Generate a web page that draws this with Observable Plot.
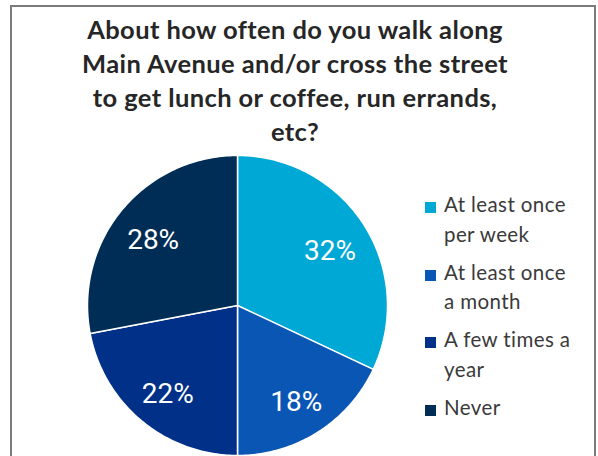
<!DOCTYPE html>
<html><head><meta charset="utf-8">
<script src="https://cdn.jsdelivr.net/npm/d3@7"></script>
<script src="https://cdn.jsdelivr.net/npm/@observablehq/plot@0.6"></script>
<style>
html,body{margin:0;padding:0;background:#fff;}
#wrap{position:relative;width:598px;height:456px;overflow:hidden;}
#frame{position:absolute;left:10px;top:5px;width:582px;height:470px;border:2px solid #7b7b7b;border-bottom:none;}
#title{position:absolute;left:0;width:590px;top:12px;text-align:center;font:bold 25.5px Lato;letter-spacing:0.4px;color:#262626;line-height:34px;}
#legend{position:absolute;left:425px;top:190px;font:20.5px Lato;letter-spacing:0.4px;color:#3a3a3a;}
.item{position:relative;padding-left:19px;line-height:29.5px;margin-bottom:8.5px;white-space:nowrap;}
.sw{position:absolute;left:0;top:12px;width:11px;height:11px;}
#chart svg{position:absolute;left:0;top:0;}
</style></head>
<body>
<div id="wrap">
  <div id="frame"></div>
  <div id="title"></div>
  <div id="chart"></div>
  <div id="legend"></div>
</div>
<script>
const titleLines = ["About how often do you walk along", "Main Avenue and/or cross the street", "to get lunch or coffee, run errands,", "etc?"];
const categories = ["At least once per week", "At least once a month", "A few times a year", "Never"];
const legendLines = [["At least once", "per week"], ["At least once", "a month"], ["A few times a", "year"], ["Never"]];
const values = [32, 18, 22, 28];
const colors = ["#00A8D6", "#0A56B5", "#003087", "#002D55"];

document.getElementById("title").innerHTML = titleLines.map(t => `<div>${t}</div>`).join("");

const data = categories.map((c, i) => ({category: c, value: values[i]}));
const arcs = d3.pie().sort(null).value(d => d.value)(data);

function slicePolygon(a) {
  const n = Math.max(2, Math.ceil((a.endAngle - a.startAngle) / (Math.PI / 180)));
  const ring = [[0, 0]];
  for (let k = 0; k <= n; k++) {
    const t = a.startAngle + (a.endAngle - a.startAngle) * k / n;
    ring.push([Math.sin(t), Math.cos(t)]);
  }
  ring.push([0, 0]);
  return {type: "Feature", properties: {category: a.data.category, value: a.data.value}, geometry: {type: "Polygon", coordinates: [ring]}};
}
const slices = arcs.map(slicePolygon);
const labels = arcs.map(a => {
  const m = (a.startAngle + a.endAngle) / 2;
  return {x: 0.73 * Math.sin(m), y: 0.73 * Math.cos(m), text: a.data.value + "%"};
});
const domain = {type: "FeatureCollection", features: slices};

const plot = Plot.plot({
  width: 598,
  height: 456,
  marginLeft: 87,
  marginRight: 211,
  marginTop: 155,
  marginBottom: 1,
  projection: {type: "reflect-y", domain},
  color: {domain: categories, range: colors},
  marks: [
    Plot.geo(slices, {fill: d => d.properties.category, stroke: "white", strokeWidth: 1.5}),
    Plot.text(labels, {x: "x", y: "y", text: "text", fill: "white", fontSize: 28, dy: 4, fontFamily: "Roboto", fontWeight: 400})
  ]
});
plot.style.background = "transparent";
document.getElementById("chart").append(plot);

const cs = plot.scale("color");
const lg = document.getElementById("legend");
categories.forEach((c, i) => {
  const it = document.createElement("div");
  it.className = "item";
  const sw = document.createElement("span");
  sw.className = "sw";
  sw.style.background = cs.apply(c);
  it.append(sw);
  legendLines[i].forEach((line, j) => {
    if (j > 0) it.append(document.createElement("br"));
    it.append(document.createTextNode(line));
  });
  lg.append(it);
});
</script>
</body></html>
